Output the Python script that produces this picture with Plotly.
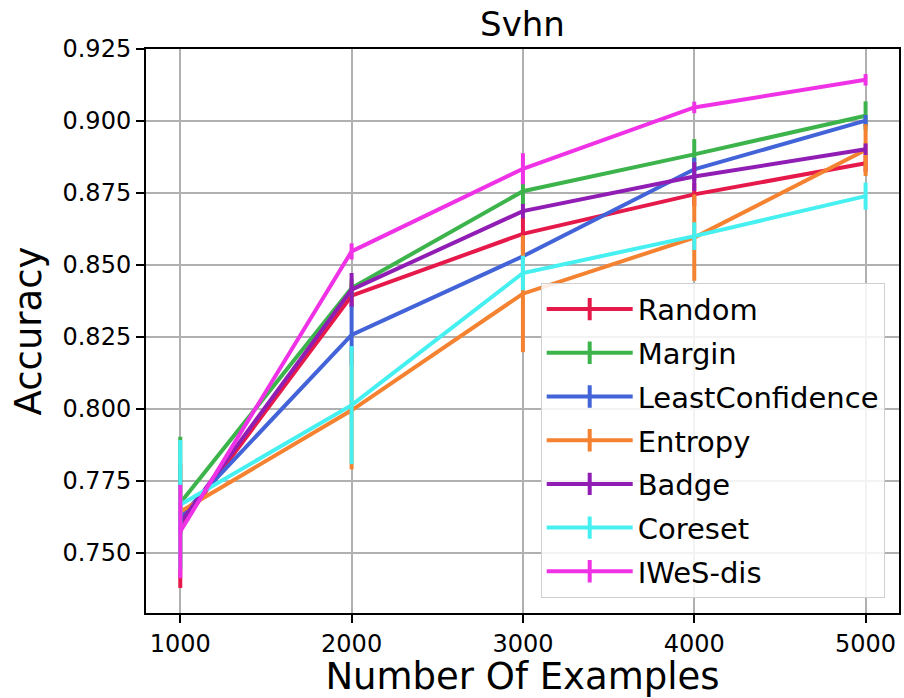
import plotly.graph_objects as go

examples = [1000, 2000, 3000, 4000, 5000]
methods = ["Random", "Margin", "LeastConfidence", "Entropy", "Badge", "Coreset", "IWeS-dis"]
colors = ["#e6194b", "#3cb44b", "#4363d8", "#f58231", "#911eb4", "#46f0f0", "#f032e6"]

random_mean = [0.7594, 0.8393, 0.8608, 0.8745, 0.8853]
margin_mean = [0.7673, 0.8420, 0.8756, 0.8884, 0.9018]
leastconf_mean = [0.7625, 0.8257, 0.8530, 0.8832, 0.9001]
entropy_mean = [0.7643, 0.7995, 0.8400, 0.8595, 0.8899]
badge_mean = [0.7604, 0.8414, 0.8687, 0.8807, 0.8902]
coreset_mean = [0.7667, 0.8013, 0.8472, 0.8600, 0.8739]
iwes_mean = [0.7574, 0.8547, 0.8834, 0.9047, 0.9143]

random_err = [0.0216, 0.0040, 0.0060, 0.0040, 0.0030]
margin_err = [0.0230, 0.0030, 0.0050, 0.0053, 0.0050]
leastconf_err = [0.0050, 0.0104, 0.0040, 0.0040, 0.0020]
entropy_err = [0.0050, 0.0205, 0.0203, 0.0150, 0.0090]
badge_err = [0.0040, 0.0058, 0.0025, 0.0050, 0.0020]
coreset_err = [0.0225, 0.0205, 0.0060, 0.0048, 0.0047]
iwes_err = [0.0162, 0.0028, 0.0054, 0.0020, 0.0020]

means = [random_mean, margin_mean, leastconf_mean, entropy_mean, badge_mean, coreset_mean, iwes_mean]
errs = [random_err, margin_err, leastconf_err, entropy_err, badge_err, coreset_err, iwes_err]

FONT = "DejaVu Sans"
fig = go.Figure()

for name, c, m, e in zip(methods, colors, means, errs):
    fig.add_trace(go.Scatter(
        x=examples, y=m, mode="lines", name=name, showlegend=False,
        line=dict(color=c, width=4),
        error_y=dict(type="data", array=e, visible=True, color=c, thickness=4, width=0),
    ))

for name, c in zip(methods, colors):
    fig.add_trace(go.Scatter(
        x=[None], y=[None], mode="lines+markers", name=name, showlegend=True,
        legendgroup=name,
        line=dict(color=c, width=4),
        marker=dict(symbol="line-ns", size=26, color=c, line=dict(color=c, width=4)),
    ))

fig.update_layout(
    width=904, height=698,
    margin=dict(l=146, r=3, t=49, b=85),
    paper_bgcolor="white", plot_bgcolor="white",
    font=dict(family=FONT, color="black", size=24),
    title=dict(text="Svhn", x=0.5, xref="paper", xanchor="center",
               y=1 - 24 / 698, yanchor="middle", font=dict(size=34, family=FONT)),
    legend=dict(
        x=0.981, y=0.027, xanchor="right", yanchor="bottom",
        bgcolor="rgba(255,255,255,0.85)", bordercolor="#d0d0d0", borderwidth=1,
        font=dict(size=29, family=FONT), itemwidth=86, tracegroupgap=3,
    ),
    showlegend=True,
)

fig.update_xaxes(
    range=[800, 5195], tickvals=examples, ticktext=[str(v) for v in examples],
    showgrid=True, gridcolor="#b0b0b0", gridwidth=2,
    showline=True, linecolor="black", linewidth=2, mirror=True,
    ticks="outside", ticklen=8, tickwidth=2, tickcolor="black",
    tickfont=dict(size=24, family=FONT), zeroline=False,
    title=dict(text="Number Of Examples", font=dict(size=37, family=FONT), standoff=8),
)
fig.update_yaxes(
    range=[0.7291, 0.925],
    tickvals=[0.75, 0.775, 0.8, 0.825, 0.85, 0.875, 0.9, 0.925],
    ticktext=["0.750", "0.775", "0.800", "0.825", "0.850", "0.875", "0.900", "0.925"],
    showgrid=True, gridcolor="#b0b0b0", gridwidth=2,
    showline=True, linecolor="black", linewidth=2, mirror=True,
    ticks="outside", ticklen=8, tickwidth=2, tickcolor="black",
    tickfont=dict(size=24, family=FONT), zeroline=False,
    title=dict(text="Accuracy", font=dict(size=37, family=FONT), standoff=10),
)

fig.write_html("out.html", config={"displayModeBar": False},
               post_script="document.body.style.margin='0';document.body.style.overflow='hidden';")
